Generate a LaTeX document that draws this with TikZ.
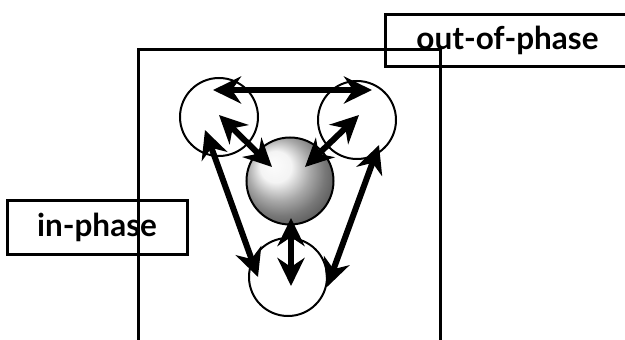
\documentclass[tikz,border=0pt]{standalone}
\usepackage{fontspec}
\setmainfont{Lato}
\usetikzlibrary{arrows.meta,calc}
\begin{document}
\begin{tikzpicture}[x=1pt,y=-1pt,
  labelbox/.style={draw, line width=3pt, inner sep=0pt,
    font=\fontsize{31.5}{34}\selectfont\bfseries},
  ring/.style={circle, draw, line width=2pt, minimum size=78pt, inner sep=0pt},
  dbl/.style={line width=6pt, {Stealth[length=28pt,width=27pt,inset=9pt]}-{Stealth[length=28pt,width=27pt,inset=9pt]}}
]
\clip (0,0) rectangle (625,340);
\fill[white] (0,0) rectangle (625,340);

% label boxes
\node[labelbox, minimum width=245pt, minimum height=52pt] (outp) at (507.5,40) {out-of-phase};
\node[labelbox, minimum width=180pt, minimum height=54pt] (inp) at (97,227) {in-phase};

% frame, running past the bottom edge
\draw[line width=3pt] (138,350) -- (138,49) -- (440,49) -- (440,350);

% three rings and the central sphere
\node[ring] (tl) at (219,117) {};
\node[ring] (tr) at (357,120) {};
\node[ring] (bt) at (288,277) {};
\node[circle, minimum size=87pt, inner sep=0pt, shading=ball, ball color=gray!12,
      draw, line width=2pt] (sph) at (290,181) {};

% arrow ends
\coordinate (a1) at ($(tl)+(-6,-27)$);
\coordinate (b1) at ($(tr)+(15,-30)$);
\coordinate (a2) at ($(tl)+(0,-2)$);
\coordinate (b2) at ($(sph)+(-18,-14)$);
\coordinate (a3) at ($(tr)+(2,-5)$);
\coordinate (b3) at ($(sph)+(15,-14)$);
\coordinate (a4) at ($(sph)+(1,37)$);
\coordinate (b4) at ($(bt)+(3,9)$);
\coordinate (a5) at ($(tl)+(-14,13)$);
\coordinate (b5) at ($(bt)+(-30,0)$);
\coordinate (a6) at ($(tr)+(22,25)$);
\coordinate (b6) at ($(bt)+(39,10)$);

\draw[dbl] (a1) -- (b1);
\draw[dbl] (a2) -- (b2);
\draw[dbl] (a3) -- (b3);
\draw[dbl] (a4) -- (b4);
\draw[dbl] (a5) -- (b5);
\draw[dbl] (a6) -- (b6);
\end{tikzpicture}
\end{document}
